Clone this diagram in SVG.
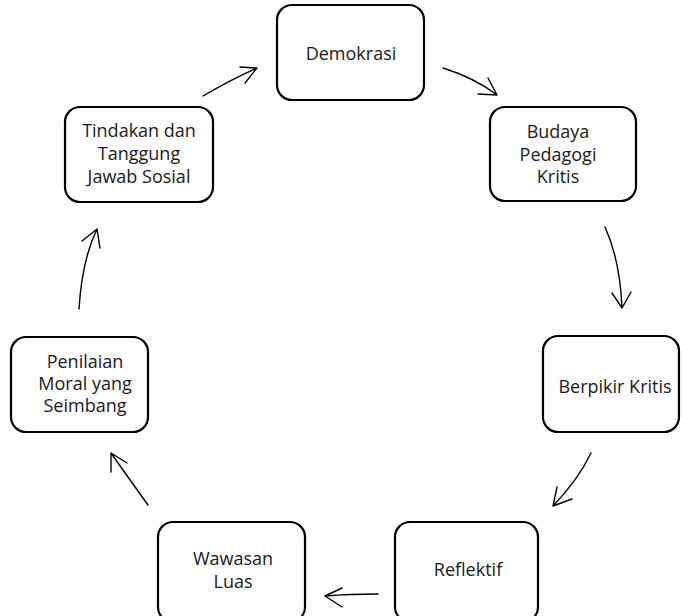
<svg xmlns="http://www.w3.org/2000/svg" width="682" height="616" viewBox="0 0 682 616">
<style>
.box{fill:#fff;stroke:#000;stroke-width:2.2}
.t{font-family:"Open Sans","Liberation Sans",sans-serif;font-size:18px;fill:#1a1a1a;text-anchor:middle}
.c{fill:none;stroke:#000;stroke-width:1.4;stroke-linecap:round;stroke-linejoin:round}
</style>
<rect width="682" height="616" fill="#fff"/>
<g id="connectors">
<path class="c" d="M443,68 Q475,78 497,95 M488,78 L497,95 L478,94"/>
<path class="c" d="M605,227 Q620,260 622,308 M612,293 L622,308 L631,292"/>
<path class="c" d="M591,453 Q578,480 553,506 M557,487 L553,506 L572,499"/>
<path class="c" d="M378,594 Q350,594 325,596 M342,588 L325,596 L342,607"/>
<path class="c" d="M148,505 Q130,480 111,453 M111,472 L111,453 L127,463"/>
<path class="c" d="M79,309 Q82,260 97,229 M82,241 L97,229 L100,248"/>
<path class="c" d="M203,96 Q230,80 257,68 M240,67 L257,68 L245,83"/>
</g>
<g id="demokrasi">
<rect class="box" x="277" y="5" width="147" height="95" rx="15"/>
<text class="t" x="351" y="60">Demokrasi</text>
</g>
<g id="budaya">
<rect class="box" x="490" y="107" width="146" height="94" rx="15"/>
<text class="t" x="558" y="138">Budaya</text>
<text class="t" x="558" y="161">Pedagogi</text>
<text class="t" x="558" y="183">Kritis</text>
</g>
<g id="berpikir">
<rect class="box" x="543" y="336" width="136" height="96" rx="15"/>
<text class="t" x="615" y="393">Berpikir Kritis</text>
</g>
<g id="reflektif">
<rect class="box" x="395" y="522" width="143" height="100" rx="15"/>
<text class="t" x="468" y="576">Reflektif</text>
</g>
<g id="wawasan">
<rect class="box" x="158" y="522" width="147" height="100" rx="15"/>
<text class="t" x="233" y="565">Wawasan</text>
<text class="t" x="233" y="588">Luas</text>
</g>
<g id="penilaian">
<rect class="box" x="11" y="337" width="137" height="95" rx="15"/>
<text class="t" x="85" y="368">Penilaian</text>
<text class="t" x="85" y="390">Moral yang</text>
<text class="t" x="85" y="412">Seimbang</text>
</g>
<g id="tindakan">
<rect class="box" x="65" y="107" width="148" height="95" rx="15"/>
<text class="t" x="139" y="137">Tindakan dan</text>
<text class="t" x="139" y="160">Tanggung</text>
<text class="t" x="139" y="183">Jawab Sosial</text>
</g>
</svg>
